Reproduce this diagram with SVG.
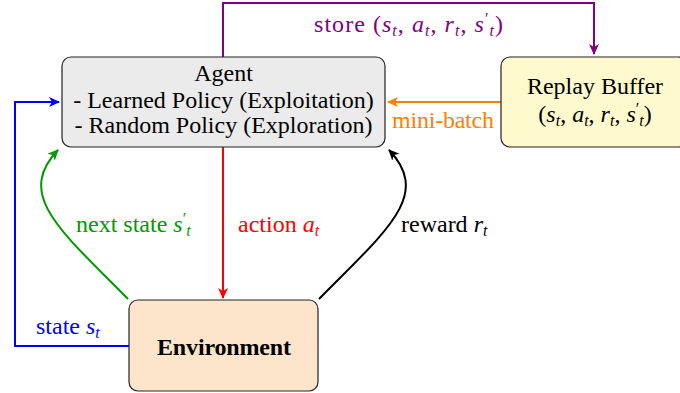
<svg xmlns="http://www.w3.org/2000/svg" width="680" height="393" viewBox="0 0 680 393">
<defs>
<style>
text{font-family:"Liberation Serif","Times New Roman",serif;font-size:24px}
.m{font-style:italic}
.s{font-style:italic;font-size:16px}
.p{font-size:16px}
.e{stroke-width:2;fill:none}
.box{stroke:#222;stroke-width:1.2}
</style>
<marker id="aP" markerWidth="12" markerHeight="12" refX="10" refY="5" orient="auto" markerUnits="userSpaceOnUse"><path d="M0,0 L11,5 L0,10 L3,5 Z" fill="#800080"/></marker>
<marker id="aO" markerWidth="12" markerHeight="12" refX="10" refY="5" orient="auto" markerUnits="userSpaceOnUse"><path d="M0,0 L11,5 L0,10 L3,5 Z" fill="#ff7f00"/></marker>
<marker id="aB" markerWidth="12" markerHeight="12" refX="10" refY="5" orient="auto" markerUnits="userSpaceOnUse"><path d="M0,0 L11,5 L0,10 L3,5 Z" fill="#0000ff"/></marker>
<marker id="aG" markerWidth="12" markerHeight="12" refX="10" refY="5" orient="auto" markerUnits="userSpaceOnUse"><path d="M0,0 L11,5 L0,10 L3,5 Z" fill="#009900"/></marker>
<marker id="aK" markerWidth="12" markerHeight="12" refX="10" refY="5" orient="auto" markerUnits="userSpaceOnUse"><path d="M0,0 L11,5 L0,10 L3,5 Z" fill="#000"/></marker>
<marker id="aR" markerWidth="12" markerHeight="12" refX="10" refY="5" orient="auto" markerUnits="userSpaceOnUse"><path d="M0,0 L11,5 L0,10 L3,5 Z" fill="#ff0000"/></marker>
</defs>
<rect width="680" height="393" fill="#fff"/>
<g id="connectors">
<path class="e" d="M223,57 V3 H594 V54" stroke="#800080" marker-end="url(#aP)"/>
<path class="e" d="M501,102 H388" stroke="#ff7f00" marker-end="url(#aO)"/>
<path class="e" d="M129,346 H15 V102 H59" stroke="#0000ff" marker-end="url(#aB)"/>
<path class="e" d="M128,299 C60,230 15,195 58,150" stroke="#009900" marker-end="url(#aG)"/>
<path class="e" d="M319,299 C387,230 432,195 389,150" stroke="#000" marker-end="url(#aK)"/>
<path class="e" d="M223,147 V298" stroke="#ff0000" marker-end="url(#aR)"/>
<text x="314" y="32" fill="#800080" textLength="189">store (<tspan class="m">s</tspan><tspan class="s" dy="4">t</tspan><tspan dy="-4">, </tspan><tspan class="m">a</tspan><tspan class="s" dy="4">t</tspan><tspan dy="-4">, </tspan><tspan class="m">r</tspan><tspan class="s" dy="4">t</tspan><tspan dy="-4">, </tspan><tspan class="m">s</tspan><tspan class="p" dy="-8">′</tspan><tspan class="s" dy="12">t</tspan><tspan dy="-4">)</tspan></text>
<text x="392" y="128" fill="#ff7f00" textLength="102">mini-batch</text>
<text x="36" y="334" fill="#0000ff">state <tspan class="m">s</tspan><tspan class="s" dy="4">t</tspan></text>
<text x="76" y="232" fill="#009900">next state <tspan class="m">s</tspan><tspan class="p" dy="-8">′</tspan><tspan class="s" dy="12">t</tspan></text>
<text x="238" y="232" fill="#ff0000">action <tspan class="m">a</tspan><tspan class="s" dy="4">t</tspan></text>
<text x="401" y="232" fill="#000">reward <tspan class="m">r</tspan><tspan class="s" dy="4">t</tspan></text>
</g>
<g id="agent">
<rect class="box" x="62" y="57" width="323" height="90" rx="9" fill="#ebebeb"/>
<text x="223.5" y="81" text-anchor="middle">Agent</text>
<text x="223.5" y="108" text-anchor="middle">- Learned Policy (Exploitation)</text>
<text x="223.5" y="133" text-anchor="middle">- Random Policy (Exploration)</text>
</g>
<g id="replay">
<rect class="box" x="501" y="57" width="186" height="90" rx="9" fill="#fffacd"/>
<text x="595" y="94" text-anchor="middle">Replay Buffer</text>
<text x="595" y="122" text-anchor="middle">(<tspan class="m">s</tspan><tspan class="s" dy="4">t</tspan><tspan dy="-4">, </tspan><tspan class="m">a</tspan><tspan class="s" dy="4">t</tspan><tspan dy="-4">, </tspan><tspan class="m">r</tspan><tspan class="s" dy="4">t</tspan><tspan dy="-4">, </tspan><tspan class="m">s</tspan><tspan class="p" dy="-8">′</tspan><tspan class="s" dy="12">t</tspan><tspan dy="-4">)</tspan></text>
</g>
<g id="environment">
<rect class="box" x="129" y="300" width="189" height="91" rx="9" fill="#fde5cc"/>
<text x="224" y="355" text-anchor="middle" font-weight="bold" textLength="134">Environment</text>
</g>
</svg>
